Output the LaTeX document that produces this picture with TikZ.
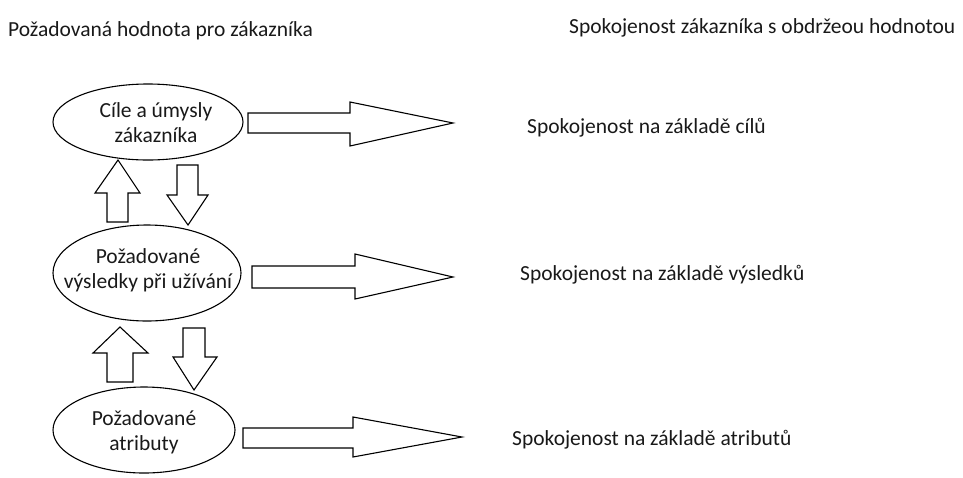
\documentclass[tikz,border=0pt]{standalone}
\usepackage{fontspec}
\setmainfont{Carlito}
\begin{document}
\begin{tikzpicture}[x=1pt,y=-1pt,
  txt/.style={font=\fontsize{21.5}{25}\selectfont, inner sep=0pt, text=black!90},
  blk/.style={draw, line width=1.1pt, line join=miter, fill=white}]
\useasboundingbox (0,0) rectangle (963,477);
% titles
\node[txt, anchor=west] (tl) at (8,31) {Požadovaná hodnota pro zákazníka};
\node[txt, anchor=west] (tr) at (569,28) {Spokojenost zákazníka s obdržeou hodnotou};
% ellipses
\draw[line width=1.1pt] (148,122) ellipse [x radius=95, y radius=38];
\node[txt, align=center] (e1) at (156,123) {Cíle a úmysly\\zákazníka};
\draw[line width=1.1pt] (147,273) ellipse [x radius=94, y radius=48];
\node[txt, align=center] (e2) at (148,270) {Požadované\\výsledky při užívání};
\draw[line width=1.1pt] (144,430) ellipse [x radius=91, y radius=43];
\node[txt, align=center] (e3) at (144,432) {Požadované\\atributy};
% right arrows
\draw[blk] (248,113) -- (350,113) -- (350,102) -- (453,123) -- (350,146) -- (350,133) -- (248,133) -- cycle;
\draw[blk] (252,266) -- (355,266) -- (355,254) -- (453,277) -- (355,299) -- (355,288) -- (252,288) -- cycle;
\draw[blk] (243,428) -- (353,428) -- (353,417) -- (462,437) -- (353,457) -- (353,448) -- (243,448) -- cycle;
% vertical arrows 1-2
\draw[blk] (107,222) -- (107,193) -- (95,193) -- (118,160) -- (140,193) -- (128,193) -- (128,222) -- cycle;
\draw[blk] (177,165) -- (198,165) -- (198,195) -- (208,195) -- (188,225) -- (167,195) -- (177,195) -- cycle;
% vertical arrows 2-3
\draw[blk] (107,382) -- (107,353) -- (93,353) -- (120,327) -- (148,353) -- (133,353) -- (133,382) -- cycle;
\draw[blk] (183,328) -- (205,328) -- (205,357) -- (217,357) -- (194,390) -- (173,357) -- (183,357) -- cycle;
% right labels
\node[txt, anchor=west] (r1) at (527,128) {Spokojenost na základě cílů};
\node[txt, anchor=west] (r2) at (520,275) {Spokojenost na základě výsledků};
\node[txt, anchor=west] (r3) at (512,440) {Spokojenost na základě atributů};
\end{tikzpicture}
\end{document}
